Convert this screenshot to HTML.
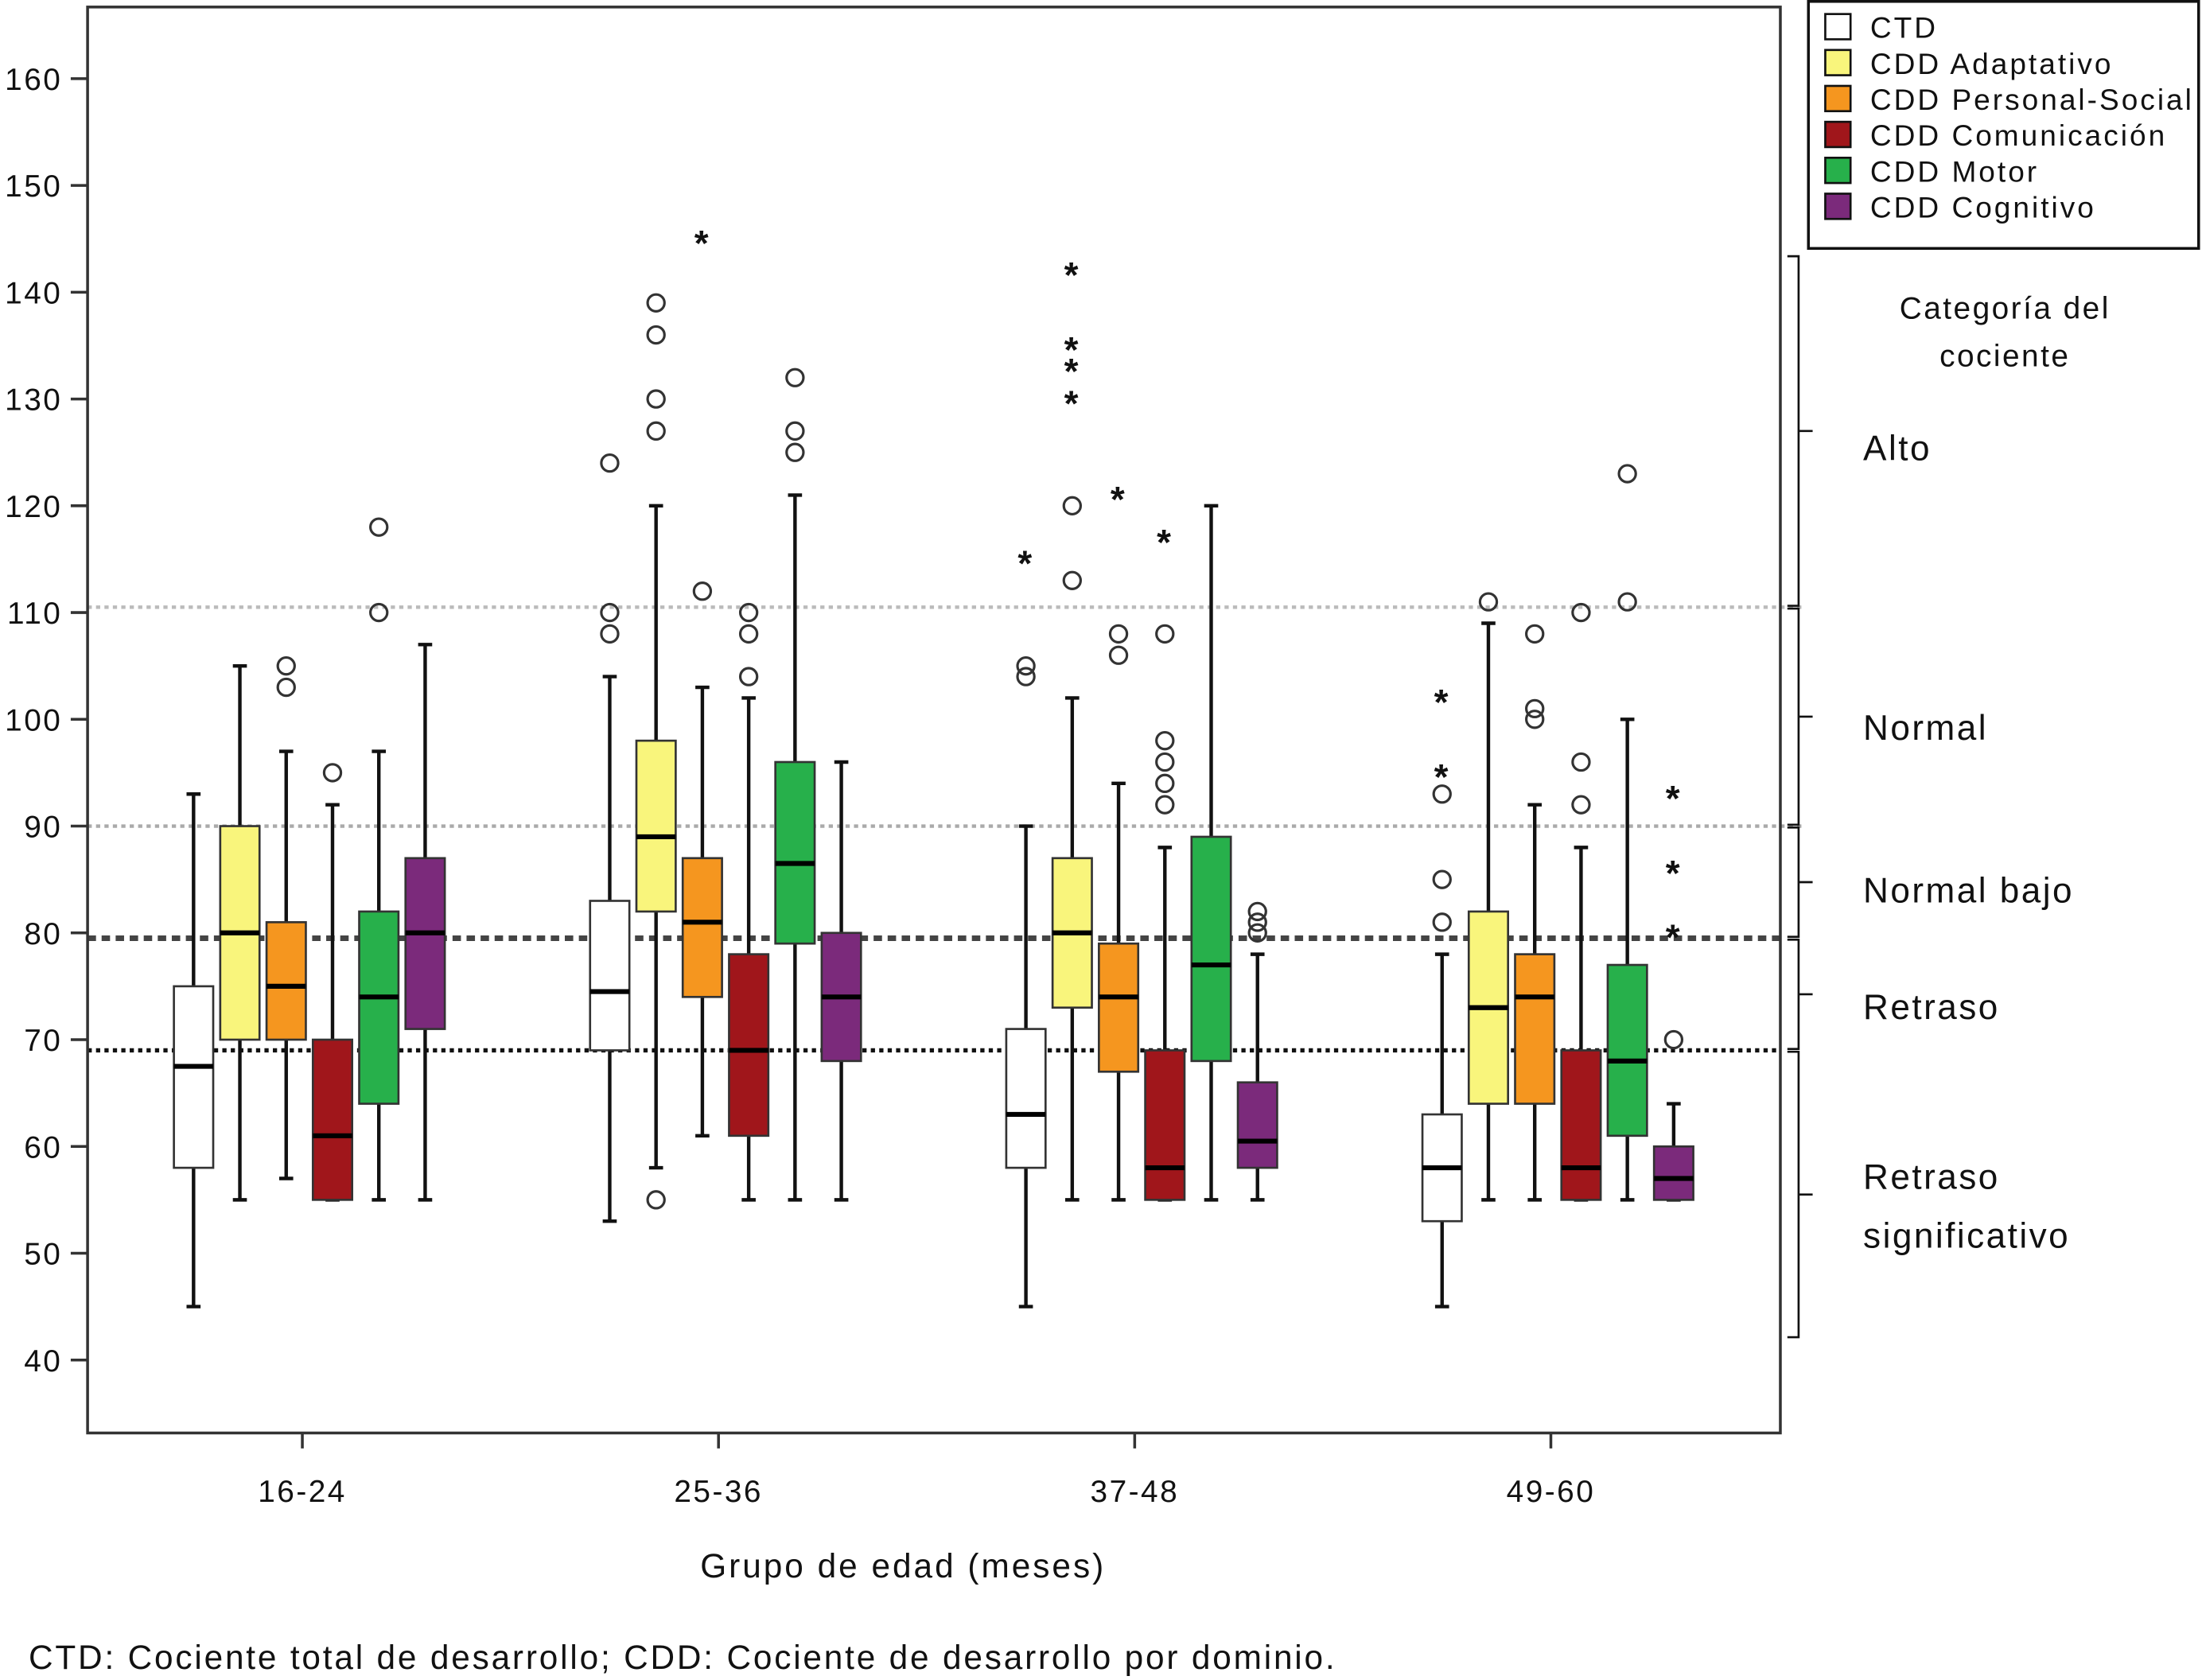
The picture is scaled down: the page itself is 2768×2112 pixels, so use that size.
<!DOCTYPE html>
<html><head><meta charset="utf-8"><style>
html,body{margin:0;padding:0;background:#fff}
svg{display:block}
text{font-family:"Liberation Sans",sans-serif;fill:#111;letter-spacing:1.4px}
</style></head><body>
<svg id="chart" xmlns="http://www.w3.org/2000/svg" width="2768" height="2112" viewBox="0 0 1568 1197">
<rect x="0" y="0" width="1568" height="1197" fill="#fff"/>
<g id="refs"></g>
<g id="plot"></g>
<rect x="62" y="5" width="1206" height="1016" fill="none" stroke="#333" stroke-width="2"/>
<g id="yaxis"></g>
<g id="xaxis"></g>
<text x="643" y="1124" font-size="24" text-anchor="middle" style="letter-spacing:1.7px">Grupo de edad (meses)</text>
<text x="20" y="1189" font-size="24" style="letter-spacing:1.6px">CTD: Cociente total de desarrollo; CDD: Cociente de desarrollo por dominio.</text>
<g id="legend">
<rect x="1288" y="1" width="278" height="176" fill="#fff" stroke="#111" stroke-width="2"/>
</g>
<g id="cats"></g>
</svg>
<script>
const groups=["16-24","25-36","37-48","49-60"];
const series=["CTD","CDD Adaptativo","CDD Personal-Social","CDD Comunicación","CDD Motor","CDD Cognitivo"];
const colors=["#ffffff","#f9f57c","#f5961f","#a0161b","#27b04b","#7b2a7b"];
const yTicks=[40,50,60,70,80,90,100,110,120,130,140,150,160];
// [min,q1,median,q3,max] per group per series
const stats=[
 [[45,58,67.5,75,93],[55,70,80,90,105],[57,70,75,81,97],[55,55,61,70,92],[55,64,74,82,97],[55,71,80,87,107]],
 [[53,69,74.5,83,104],[58,82,89,98,120],[61,74,81,87,103],[55,61,69,78,102],[55,79,86.5,96,121],[55,68,74,80,96]],
 [[45,58,63,71,90],[55,73,80,87,102],[55,67,74,79,94],[55,55,58,69,88],[55,68,77,89,120],[55,58,60.5,66,78]],
 [[45,53,58,63,78],[55,64,73,82,109],[55,64,74,78,92],[55,55,58,69,88],[55,61,68,77,100],[55,55,57,60,64]]
];
const circles=[
 [[],[],[103,105],[95],[110,118],[]],
 [[108,110,124],[55,127,130,136,139],[112],[104,108,110],[125,127,132],[]],
 [[104,105],[113,120],[106,108],[92,94,96,98,108],[],[80,81,82]],
 [[81,85,93],[111],[100,101,108],[92,96,110],[111,123],[70]]
];
const stars=[
 [[],[],[],[],[],[]],
 [[],[],[145],[],[],[]],
 [[115],[130,133,135,142],[121],[117],[],[]],
 [[95,102],[],[],[],[],[80,86,93]]
];
const refLines=[110.5,90,79.5,69];
const categories=[["Alto",[110.5,143.5]],["Normal",[90,110.5]],["Normal bajo",[79.5,90]],["Retraso",[69,79.5]],["Retraso|significativo",[42,69]]];

const NS="http://www.w3.org/2000/svg";
const y=v=>969-(v-40)*7.608;
const gx=i=>220+i*296.5;
const sx=(g,s)=>gx(g)+(s-2.5)*33;
function mk(tag,attrs,parent){const e=document.createElementNS(NS,tag);for(const k in attrs)e.setAttribute(k,attrs[k]);parent.appendChild(e);return e;}

const yaxis=document.getElementById('yaxis');
yTicks.forEach(t=>{
 const l=mk('line',{x1:50,x2:62,y1:y(t),y2:y(t),stroke:'#333','stroke-width':2},yaxis);
 
 
 const tx=mk('text',{x:44,y:y(t)+8,'font-size':22,'text-anchor':'end'},yaxis);tx.textContent=t;
 
 
});
const xaxis=document.getElementById('xaxis');
groups.forEach((g,i)=>{
 const cx=gx(i)-5;
 const l=mk('line',{x1:cx,x2:cx,y1:1021,y2:1032,stroke:'#333','stroke-width':2},xaxis);
 
 
 const tx=mk('text',{x:cx,y:1070,'font-size':22,'text-anchor':'middle'},xaxis);tx.textContent=g;
 
 
});
const refs=document.getElementById('refs');
const refStyle=[['#bbb',2.5,'3,3',1285],['#aaa',2.5,'3,3',1285],['#444',4,'6,4',1268],['#111',3,'3,3',1268]];
refLines.forEach((v,i)=>{
 const s=refStyle[i];
 const l=mk('line',{x1:62,x2:s[3],y1:y(v),y2:y(v),stroke:s[0],'stroke-width':s[1],'stroke-dasharray':s[2]},refs);
 
 
});
const plot=document.getElementById('plot');
stats.forEach((grp,g)=>grp.forEach((st,s)=>{
 const cx=sx(g,s),w=28;
 const bg=mk('g',{},plot);
 
 
 mk('line',{x1:cx,x2:cx,y1:y(st[0]),y2:y(st[4]),stroke:'#111','stroke-width':2.5},bg);
 mk('line',{x1:cx-5,x2:cx+5,y1:y(st[0]),y2:y(st[0]),stroke:'#111','stroke-width':2.5},bg);
 mk('line',{x1:cx-5,x2:cx+5,y1:y(st[4]),y2:y(st[4]),stroke:'#111','stroke-width':2.5},bg);
 mk('rect',{x:cx-w/2,y:y(st[3]),width:w,height:y(st[1])-y(st[3]),fill:colors[s],stroke:'#333','stroke-width':1.5},bg);
 mk('line',{x1:cx-w/2,x2:cx+w/2,y1:y(st[2]),y2:y(st[2]),stroke:'#000','stroke-width':3.5},bg);
 circles[g][s].forEach(v=>{
  const c=mk('circle',{cx:cx,cy:y(v),r:6,fill:'none',stroke:'#333','stroke-width':1.8},plot);
  
  
 });
 stars[g][s].forEach(v=>{
  const t=mk('text',{x:cx,y:y(v)+12,'font-size':26,'text-anchor':'middle','font-weight':'bold'},plot);t.textContent='*';
  
  
 });
}));
const leg=document.getElementById('legend');
series.forEach((n,i)=>{
 const yy=19+i*25.6;
 const r=mk('rect',{x:1300,y:yy-9,width:18,height:18,fill:colors[i],stroke:'#111','stroke-width':1.5},leg);
 
 
 const t=mk('text',{x:1332,y:yy+8,'font-size':21,style:'letter-spacing:1.7px'},leg);t.textContent=n;
 
 
});
const cats=document.getElementById('cats');
let t1=mk('text',{x:1428,y:227,'font-size':22,'text-anchor':'middle'},cats);t1.textContent='Categoría del';
let t2=mk('text',{x:1428,y:261,'font-size':22,'text-anchor':'middle'},cats);t2.textContent='cociente';
const labY=[320,519,635,718,839];
categories.forEach((c,i)=>{
 const a=y(c[1][1]),b=y(c[1][0]),m=(a+b)/2;
 mk('path',{d:`M1273 ${a+1} H1281 V${b-1} H1273 M1281 ${m} H1291`,fill:'none',stroke:'#111','stroke-width':1.5},cats);
 c[0].split('|').forEach((p,j)=>{
  const t=mk('text',{x:1327,y:labY[i]+8+j*42,'font-size':25},cats);t.textContent=p;
  
  
 });
});
</script>
</body></html>
